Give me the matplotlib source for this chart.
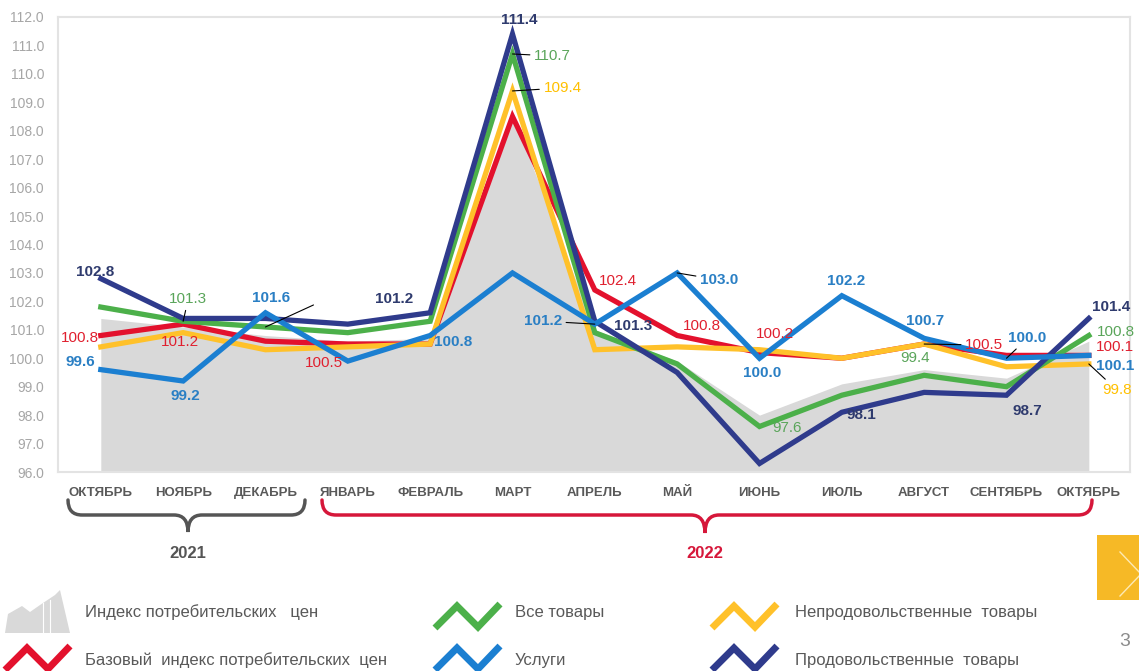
import matplotlib
matplotlib.use('Agg')
import matplotlib.pyplot as plt
from matplotlib.path import Path
from matplotlib.patches import PathPatch, Polygon, Rectangle

plt.rcParams['font.family'] = ['Liberation Sans', 'DejaVu Sans']

# data
months = ['ОКТЯБРЬ', 'НОЯБРЬ', 'ДЕКАБРЬ', 'ЯНВАРЬ', 'ФЕВРАЛЬ', 'МАРТ', 'АПРЕЛЬ',
          'МАЙ', 'ИЮНЬ', 'ИЮЛЬ', 'АВГУСТ', 'СЕНТЯБРЬ', 'ОКТЯБРЬ']
cpi = [101.4, 101.1, 100.8, 100.6, 100.7, 108.6, 101.0, 99.9, 98.0, 99.1, 99.6, 99.3, 100.6]
base_cpi = [100.8, 101.2, 100.6, 100.5, 100.5, 108.5, 102.4, 100.8, 100.2, 100.0, 100.5, 100.1, 100.1]
all_goods = [101.8, 101.3, 101.1, 100.9, 101.3, 110.7, 100.9, 99.8, 97.6, 98.7, 99.4, 99.0, 100.8]
non_food = [100.4, 100.9, 100.3, 100.4, 100.5, 109.4, 100.3, 100.4, 100.3, 100.0, 100.5, 99.7, 99.8]
services = [99.6, 99.2, 101.6, 99.9, 100.8, 103.0, 101.2, 103.0, 100.0, 102.2, 100.7, 100.0, 100.1]
food = [102.8, 101.4, 101.4, 101.2, 101.6, 111.4, 101.3, 99.5, 96.3, 98.1, 98.8, 98.7, 101.4]
year_labels = ['2021', '2022']
legend_names = ['Индекс потребительских   цен', 'Базовый  индекс потребительских  цен',
                'Все товары', 'Услуги', 'Непродовольственные  товары', 'Продовольственные  товары']

series = {
    'base': (base_cpi, '#e3112d', '#e0202f', 'normal'),
    'nonfood': (non_food, '#ffc12a', '#ffc000', 'normal'),
    'goods': (all_goods, '#4cb04a', '#5aa55a', 'normal'),
    'food': (food, '#2f3b8c', '#2f3b6e', 'bold'),
    'serv': (services, '#1b7fd1', '#2a7fc4', 'bold'),
}

# which points are labelled: (series, month index, dx px, dy px, leader line)
labels = [
    ('food', 0, -6, 7, False), ('food', 3, 46, 25, False), ('food', 5, 7, 14, False),
    ('food', 6, 38, -5, False), ('food', 9, 20, -3, False), ('food', 11, 21, -16, False),
    ('food', 12, 22, 11, False),
    ('goods', 1, 5, 22, True), ('goods', 5, 40, -2, True), ('goods', 8, 28, -1, False),
    ('goods', 10, -9, 17, False), ('goods', 12, 27, 4, False),
    ('base', 0, -21, -2, False), ('base', 1, -3, -18, False), ('base', 3, -24, -19, False),
    ('base', 6, 23, 9, False), ('base', 7, 25, 10, False), ('base', 8, 15, 19, False),
    ('base', 10, 60, -1, True), ('base', 12, 26, 8, False),
    ('nonfood', 5, 50, 3, True), ('nonfood', 12, 28, -26, True),
    ('serv', 0, -21, 8, False), ('serv', 1, 2, -15, False), ('serv', 2, 6, 15, False),
    ('serv', 4, 23, -7, False), ('serv', 6, -52, 3, True), ('serv', 7, 42, -7, True),
    ('serv', 8, 3, -15, False), ('serv', 9, 4, 15, False), ('serv', 10, 1, 17, False),
    ('serv', 11, 21, 20, True), ('serv', 12, 26, -11, False),
]

fig = plt.figure(figsize=(11.39, 6.71), dpi=100)
fig.patch.set_facecolor('white')

ax = fig.add_axes([58 / 1139, 1 - 472 / 671, (1130 - 58) / 1139, (472 - 17) / 671])
x = list(range(len(months)))
ax.fill_between(x, 96, cpi, color='#d9d9d9', lw=0, zorder=1)
for key in ['base', 'nonfood', 'goods', 'food', 'serv']:
    vals, col, _, _ = series[key]
    ax.plot(x, vals, color=col, lw=3.8, solid_joinstyle='miter', zorder=3)

for key, i, dx, dy, leader in labels:
    vals, _, tcol, weight = series[key]
    kw = {}
    if leader:
        kw['arrowprops'] = dict(arrowstyle='-', color='black', lw=0.8, shrinkA=1, shrinkB=0)
    ax.annotate('%.1f' % vals[i], xy=(i, vals[i]), xytext=(dx, dy), textcoords='offset pixels',
                ha='center', va='center', color=tcol, fontsize=11, fontweight=weight,
                zorder=5, **kw)
# stray leader line in december
ax.annotate('', xy=(2, all_goods[2]), xytext=(48, 22), textcoords='offset pixels',
            arrowprops=dict(arrowstyle='-', color='black', lw=0.8, shrinkA=0, shrinkB=0))

ax.set_xlim(-0.52, 12.5)
ax.set_ylim(96, 112)
ax.set_yticks(range(96, 113))
ax.set_yticklabels(['%.1f' % v for v in range(96, 113)], color='#a6a6a6', fontsize=10)
ax.set_xticks(x)
ax.set_xticklabels(months, color='#595959', fontsize=9.5, fontweight='bold')
ax.tick_params(axis='y', length=0, pad=10)
ax.tick_params(axis='x', length=0, pad=11)
for s in ax.spines.values():
    s.set_color('#e3e3e3')
    s.set_linewidth(1.5)

# overlay in pixel coordinates for braces and legend
ov = fig.add_axes([0, 0, 1, 1], zorder=-1)
ov.set_xlim(0, 1139)
ov.set_ylim(671, 0)
ov.axis('off')


def brace(x0, x1, xm, ytop, ybar, ytip, color):
    r = 14
    verts = [(x0, ytop), (x0, ybar), (x0 + r, ybar), (xm - r, ybar), (xm, ybar), (xm, ytip),
             (xm, ybar), (xm + r, ybar), (x1 - r, ybar), (x1, ybar), (x1, ytop)]
    codes = [Path.MOVETO, Path.CURVE3, Path.CURVE3, Path.LINETO, Path.CURVE3, Path.CURVE3,
             Path.CURVE3, Path.CURVE3, Path.LINETO, Path.CURVE3, Path.CURVE3]
    ov.add_patch(PathPatch(Path(verts, codes), fill=False, edgecolor=color, lw=2.5,
                           capstyle='round'))


brace(68, 305, 188, 500, 515, 532, '#555555')
brace(322, 1092, 705, 500, 515, 533, '#d6173a')
ov.text(188, 553, year_labels[0], ha='center', va='center', fontsize=12, fontweight='bold',
        color='#555555')
ov.text(705, 553, year_labels[1], ha='center', va='center', fontsize=12, fontweight='bold',
        color='#d6173a')

# yellow next button and page number
ov.add_patch(Rectangle((1097, 535), 45, 65, color='#f6b926', lw=0))
ov.plot([1120, 1141, 1120], [552, 574, 596], color='#fdeab5', lw=1)
ov.text(1125, 641, '3', ha='center', va='center', fontsize=14, color='#8c8c8c')

# legend
ov.add_patch(Polygon([(5, 633), (8, 614), (22, 606), (30, 612), (40, 605), (55, 595),
                      (60, 590), (70, 633)], closed=True, color='#d9d9d9', lw=0))
ov.plot([43, 43], [633, 603], color='white', lw=0.8)
ov.plot([50, 50], [633, 600], color='white', lw=0.8)


def zig(x0, y0, color):
    ov.plot([x0, x0 + 22, x0 + 43, x0 + 65], [y0 + 24, y0 + 2, y0 + 23, y0],
            color=color, lw=5, solid_joinstyle='miter', solid_capstyle='butt')


zig(5, 646, series['base'][1])
zig(435, 604, series['goods'][1])
zig(435, 646, series['serv'][1])
zig(712, 604, series['nonfood'][1])
zig(712, 646, series['food'][1])

pos = [(85, 612), (85, 660), (515, 612), (515, 660), (795, 612), (795, 660)]
for (tx, ty), name in zip(pos, legend_names):
    ov.text(tx, ty, name, ha='left', va='center', fontsize=12, color='#595959')

fig.savefig('out.png', dpi=100)
